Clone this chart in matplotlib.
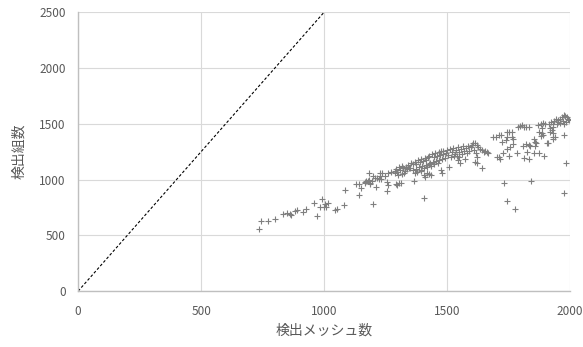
import matplotlib
matplotlib.use("Agg")
import matplotlib.pyplot as plt

plt.rcParams['font.family'] = ['Noto Sans CJK JP', 'DejaVu Sans']

# detected mesh count (x) and detected group count (y)
mesh_counts = [
    734, 745, 772, 802, 831, 850, 863, 867, 883, 890,
    913, 928, 959, 970, 985, 993, 999, 1005, 1015, 1007,
    1043, 1052, 1081, 1085,
    1129, 1141, 1141, 1148, 1165, 1167, 1171, 1178, 1184, 1188,
    1195, 1187, 1184, 1198, 1199, 1207, 1214, 1221, 1225, 1228,
    1234, 1230, 1211, 1255, 1257, 1248, 1261, 1271, 1259, 1295,
    1293, 1306, 1313,
    1286, 1292, 1298, 1304, 1310, 1316, 1322, 1328, 1334, 1340,
    1290, 1300, 1318, 1325, 1336, 1345,
    1350, 1355, 1360, 1362, 1368, 1372, 1375, 1380, 1384, 1388,
    1392, 1395, 1398, 1402, 1405, 1408, 1412, 1415, 1418, 1422,
    1425, 1428, 1432, 1435, 1438, 1442, 1445, 1448, 1452, 1455,
    1458, 1462, 1465, 1468, 1472, 1475, 1478, 1482, 1485, 1490,
    1494, 1498,
    1366, 1370, 1377, 1393, 1404, 1411, 1418, 1428, 1434, 1407,
    1474, 1478, 1508,
    1505, 1510, 1515, 1520, 1525, 1530, 1535, 1540, 1545, 1550,
    1555, 1560, 1565, 1570, 1575, 1580, 1585, 1590, 1595, 1548,
    1546, 1553, 1573, 1528, 1600,
    1607, 1614, 1621, 1627, 1634, 1641, 1648, 1654, 1661, 1668,
    1610, 1618, 1623, 1614, 1621, 1641,
    1688, 1699, 1709, 1718, 1743, 1753, 1763, 1743, 1763, 1722,
    1740, 1769, 1769, 1756, 1745, 1726, 1709, 1713, 1753, 1783,
    1787, 1797, 1803, 1813, 1821, 1831, 1810, 1820, 1831, 1826,
    1813, 1831, 1702,
    1732, 1745, 1774, 1839,
    1871, 1881, 1891, 1898, 1885, 1875, 1885, 1889, 1881, 1913,
    1921, 1929, 1935, 1943, 1952, 1959, 1966, 1973, 1980, 1986,
    1970, 1984, 1993, 1976, 1919, 1932, 1925, 1932, 1916, 1854,
    1858, 1862, 1858, 1837, 1908, 1939, 1932, 1893, 1874, 1853,
    1906, 1929, 1982, 1973, 1973, 1990, 1995, 1960, 1950, 1945,
]
group_counts = [
    553, 627, 627, 642, 693, 699, 693, 678, 717, 726,
    705, 732, 789, 675, 756, 822, 750, 780, 786, 756,
    723, 735, 773, 905,
    956, 960, 860, 920, 970, 977, 983, 989, 995, 970,
    989, 960, 1063, 1036, 780, 1010, 1015, 1001, 1030, 1055,
    1060, 1001, 935, 896, 977, 1030, 1055, 1069, 950, 952,
    956, 965, 970,
    1080, 1095, 1070, 1110, 1088, 1120, 1100, 1075, 1115, 1130,
    1060, 1040, 1050, 1060, 1090, 1100,
    1100, 1150, 1085, 1135, 1160, 1095, 1140, 1175, 1110, 1155,
    1080, 1185, 1120, 1165, 1105, 1195, 1130, 1175, 1115, 1200,
    1140, 1210, 1150, 1125, 1225, 1160, 1200, 1140, 1235, 1165,
    1210, 1150, 1245, 1175, 1220, 1255, 1180, 1230, 1260, 1190,
    1240, 1265,
    986, 1055, 1069, 1084, 1039, 1024, 1060, 1048, 1039, 833,
    1084, 1063, 1108,
    1220, 1270, 1205, 1250, 1285, 1230, 1265, 1215, 1290, 1245,
    1275, 1225, 1300, 1255, 1285, 1235, 1305, 1260, 1290, 1205,
    1174, 1150, 1180, 1215, 1310,
    1329, 1323, 1308, 1293, 1278, 1263, 1248, 1257, 1248, 1240,
    1263, 1234, 1204, 1159, 1144, 1099,
    1377, 1383, 1395, 1401, 1428, 1422, 1428, 1383, 1377, 1338,
    1353, 1359, 1317, 1293, 1278, 1240, 1204, 1180, 1210, 1240,
    1467, 1478, 1487, 1472, 1472, 1467, 1299, 1317, 1308, 1248,
    1189, 1180, 1200,
    970, 806, 737, 985,
    1487, 1502, 1508, 1496, 1458, 1428, 1413, 1398, 1389, 1502,
    1517, 1496, 1526, 1538, 1517, 1508, 1556, 1577, 1568, 1556,
    1526, 1517, 1538, 1502, 1458, 1467, 1443, 1413, 1428, 1359,
    1338, 1323, 1305, 1299, 1329, 1383, 1359, 1210, 1240, 1240,
    1323, 1383, 1150, 881, 1398, 1545, 1530, 1540, 1530, 1500,
]

# reference line y = 2.5x
ref_x = [0, 1000]
ref_y = [0, 2500]

x_ticks = [0, 500, 1000, 1500, 2000]
y_ticks = [0, 500, 1000, 1500, 2000, 2500]

fig = plt.figure(figsize=(5.83, 3.47), dpi=100)
ax = fig.add_axes([0.134, 0.161, 0.844, 0.804])

ax.plot(ref_x, ref_y, color='black', linestyle=(0, (2.5, 1.8)), linewidth=0.8)
ax.plot(mesh_counts, group_counts, linestyle='none', marker='+',
        markersize=4.5, markeredgewidth=0.8, color='#7f7f7f')

ax.set_xlim(0, 2000)
ax.set_ylim(0, 2500)
ax.set_xticks(x_ticks)
ax.set_yticks(y_ticks)
ax.grid(True, color='#d9d9d9', linewidth=0.8)
ax.set_axisbelow(True)

for side in ['top', 'right']:
    ax.spines[side].set_visible(False)
for side in ['left', 'bottom']:
    ax.spines[side].set_color('#bfbfbf')
    ax.spines[side].set_linewidth(1.0)

ax.tick_params(length=0, labelsize=8.5, colors='#595959')
ax.tick_params(axis='x', pad=10)
ax.tick_params(axis='y', pad=9)
ax.set_xlabel('検出メッシュ数', fontsize=10, color='#595959', labelpad=4)
ax.set_ylabel('検出組数', fontsize=10, color='#595959', labelpad=9)

fig.savefig('out.png', dpi=100)
